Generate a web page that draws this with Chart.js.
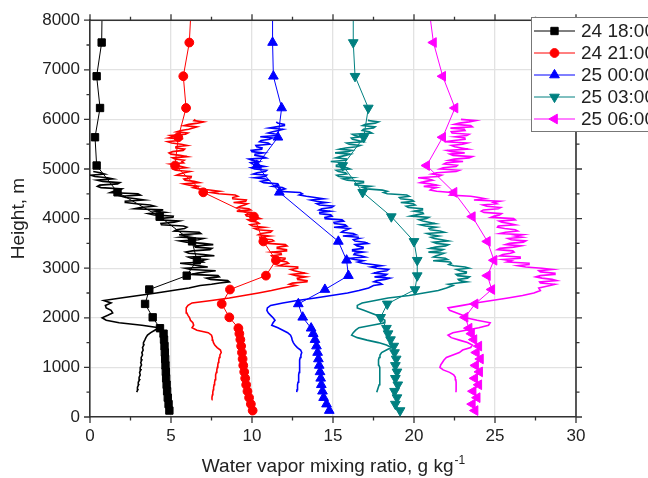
<!DOCTYPE html>
<html>
<head>
<meta charset="utf-8">
<script src="https://cdn.jsdelivr.net/npm/chart.js@4.4.1/dist/chart.umd.min.js"></script>
<style>
  html, body { margin: 0; padding: 0; background: #fff; }
  #wrap { width: 648px; height: 478px; position: relative; }
</style>
</head>
<body>
<div id="wrap"><canvas id="profileChart"></canvas></div>
<script>
// ---- data ----
const seriesNames = ["24 18:00", "24 21:00", "25 00:00", "25 03:00", "25 06:00"];
const xTicks = [0, 5, 10, 15, 20, 25, 30];
const yTicks = [0, 1000, 2000, 3000, 4000, 5000, 6000, 7000, 8000];

// continuous profiles (height, m)
const profileHeights = [
  350, 400, 450, 500, 550, 600, 650, 700, 750, 800,
  850, 900, 950, 1000, 1050, 1100, 1150, 1200, 1250, 1300,
  1350, 1400, 1450, 1500, 1550, 1600, 1650, 1700, 1750, 1800,
  1850, 1900, 1950, 2000, 2050, 2100, 2150, 2200, 2250, 2300,
  2350, 2400, 2450, 2500, 2550, 2600, 2650, 2700, 2750, 2800,
  2850, 2900, 2950, 3000, 3050, 3100, 3150, 3200, 3250, 3300,
  3350, 3400, 3450, 3500, 3550, 3600, 3650, 3700, 3750, 3800,
  3850, 3900, 3950, 4000, 4050, 4100, 4150, 4200, 4250, 4300,
  4350, 4400, 4450, 4500, 4550, 4600, 4650, 4700, 4750, 4800,
  4850, 4900, 4950, 5000, 5050, 5100, 5150, 5200, 5250, 5300,
  5350, 5400, 5450, 5500, 5550, 5600, 5650, 5700, 5750, 5800,
  5850, 5900, 5950, 6000
];
// extra levels in the noisy upper part
const profileMidHeights = [
  2675, 2725, 2775, 2825, 2875, 2925, 2975, 3025, 3075, 3125,
  3175, 3225, 3275, 3325, 3375, 3425, 3475, 3525, 3575, 3625,
  3675, 3725, 3775, 3825, 3875, 3925, 3975, 4025, 4075, 4125,
  4175, 4225, 4275, 4325, 4375, 4425, 4475, 4525, 4575, 4625,
  4675, 4725, 4775, 4825, 4875, 4925, 4975, 5025, 5075, 5125,
  5175, 5225, 5275, 5325, 5375, 5425, 5475, 5525, 5575, 5625,
  5675, 5725, 5775, 5825, 5875, 5925, 5975
];

const profile1800 = [
  null, null, null, 2.88, 2.95, 2.93, 3.0, 2.98, 3.06, 3.03,
  3.1, 3.06, 3.14, 3.1, 3.18, 3.13, 3.2, 3.16, 3.24, 3.2,
  3.28, 3.24, 3.32, 3.3, 3.38, 3.45, 3.55, 3.75, 4.0, 4.25,
  3.2, 1.8, 1.0, 0.75, 1.1, 1.4, 1.3, 1.0, 0.95, 1.3,
  0.85, 1.9, 3.0, 4.1, 5.1, 6.1, 6.8, 8.0, 8.5, 7.2,
  7.9, 6.64, 7.76, 5.88, 6.74, 5.56, 6.88, 6.26, 7.68, 6.1,
  6.32, 7.52, 6.46, 6.96, 5.54, 7.0, 6.08, 6.84, 5.2, 5.84,
  5.76, 4.38, 5.52, 4.26, 5.14, 3.62, 4.02, 2.74, 3.98, 2.84,
  2.18, 2.84, 1.94, 2.96, 1.46, 1.98, 0.46, 1.7, 0.78, 1.42,
  0.3, 0.9, 0.2, null, null, null, null, null, null, null,
  null, null, null, null, null, null, null, null, null, null,
  null, null, null, null
];
const profile1800Mid = [
  7.5, 8.6, 7.44, 7.98, 6.26, 7.14, 6.22, 7.27, 6.21, 7.0,
  7.17, 6.07, 7.01, 5.91, 7.4, 6.51, 7.61, 5.95, 6.69, 5.58,
  5.5, 6.74, 5.34, 5.98, 4.41, 5.19, 4.17, 5.12, 3.96, 4.6,
  4.52, 3.12, 3.71, 2.21, 3.35, 2.21, 3.11, 1.25, 1.84, 0.68,
  0.6, 1.84, 0.44, 1.08, 0.05, 0.64, null, null, null, null,
  null, null, null, null, null, null, null, null, null, null,
  null, null, null, null, null, null, null
];
const profile2100 = [
  7.51, 7.53, 7.56, 7.58, 7.61, 7.63, 7.66, 7.69, 7.72, 7.74,
  7.77, 7.8, 7.83, 7.86, 7.89, 7.92, 7.95, 7.98, 8.02, 8.1,
  8.05, 7.85, 7.7, 7.62, 7.58, 7.55, 7.5, 7.3, 6.6, 6.3,
  6.4, 6.35, 6.2, 6.15, 6.05, 5.97, 5.93, 5.95, 6.05, 6.3,
  7.5, 8.6, 9.5, 10.4, 11.2, 11.9, 12.7, 12.5, 13.4, 12.8,
  12.72, 13.27, 12.61, 12.81, 11.64, 12.25, 11.63, 12.04, 11.2, 11.79,
  12.1, 11.59, 12.16, 10.98, 11.34, 10.51, 11.08, 10.56, 11.23, 10.15,
  10.03, 10.44, 9.89, 10.51, 9.66, 9.98, 9.06, 9.8, 9.28, 9.72,
  9.61, 8.78, 9.12, 7.96, 7.99, 6.72, 6.67, 5.79, 6.43, 5.79,
  6.25, 5.54, 6.16, 5.13, 5.64, 4.96, 5.68, 5.24, 5.99, 5.0,
  5.1, 5.84, 5.31, 5.63, 4.79, 5.63, 5.18, 5.89, 5.35, 6.09,
  6.6, 6.1, 7.0, 6.5
];
const profile2100Mid = [
  12.3, 13.39, 12.79, 13.31, 12.44, 12.94, 12.4, 12.82, 11.91, 12.15,
  12.05, 11.27, 11.81, 11.21, 12.13, 11.56, 12.06, 10.95, 11.24, 10.48,
  10.4, 11.14, 10.34, 10.76, 9.89, 10.34, 9.75, 10.3, 9.61, 9.98,
  9.92, 9.12, 9.54, 8.86, 9.65, 8.81, 8.96, 7.45, 7.39, 6.38,
  6.13, 6.74, 5.87, 6.23, 5.34, 5.82, 5.3, 5.95, 5.34, 5.78,
  5.81, 5.09, 5.57, 4.88, 5.75, 5.3, 6.0, 5.04, 5.46, 4.85,
  4.95, 6.04, 5.62, 6.36, 5.81, 6.64, 6.42
];
const profile0000 = [
  null, null, null, 12.76, 12.78, 12.8, 12.82, 12.84, 12.86, 12.88,
  12.9, 12.91, 12.92, 12.93, 12.94, 12.95, 12.96, 12.98, 13.02, 13.07,
  13.0, 12.8, 12.65, 12.55, 12.48, 12.45, 12.38, 12.2, 11.9, 11.6,
  11.22, 11.3, 11.42, 11.3, 11.15, 11.0, 10.92, 10.95, 11.15, 11.9,
  12.8, 13.9, 14.9, 15.9, 16.6, 17.2, 17.5, 17.9, 17.7, 18.5,
  18.21, 17.53, 18.32, 17.71, 17.99, 16.82, 16.87, 15.99, 16.73, 16.34,
  16.23, 16.89, 16.49, 17.16, 16.36, 16.58, 15.61, 16.25, 15.63, 16.02,
  15.85, 15.09, 15.66, 14.48, 14.94, 14.16, 14.83, 14.31, 15.03, 14.0,
  13.97, 14.42, 13.36, 13.11, 11.64, 12.05, 11.28, 11.59, 10.55, 10.84,
  10.81, 10.08, 10.82, 10.16, 10.79, 10.04, 10.41, 9.8, 10.66, 10.19,
  10.0, 10.6, 10.29, 11.11, 10.46, 11.08, 10.51, 11.55, 11.28, 11.92,
  11.5, 12.0, 11.5, null
];
const profile0000Mid = [
  18.02, 17.52, 18.21, 17.56, 18.32, 17.78, 18.43, 17.35, 17.44, 16.53,
  16.33, 16.99, 16.29, 16.88, 16.21, 16.86, 16.37, 16.97, 16.26, 16.55,
  16.42, 15.52, 15.86, 15.06, 15.75, 15.06, 15.56, 14.5, 14.86, 14.18,
  14.15, 14.91, 14.17, 14.58, 13.63, 13.89, 12.92, 12.97, 11.81, 11.87,
  11.64, 10.72, 11.01, 10.16, 10.9, 10.31, 10.91, 9.95, 10.45, 9.91,
  10.0, 10.86, 10.18, 10.69, 9.95, 10.62, 10.24, 11.0, 10.56, 11.25,
  11.52, 11.0, 11.64, 11.06, 12.0, 11.58, null
];
const profile0300 = [
  null, null, null, 17.7, 17.75, 17.8, 17.85, 17.88, 17.9, 17.9,
  17.9, 17.9, 17.88, 17.85, 17.82, 17.8, 17.82, 17.85, 17.9, 18.0,
  18.3, 18.6, 18.3, 17.8, 17.1, 16.5, 16.15, 16.25, 16.4, 16.6,
  17.4, 18.2, 18.2, 17.95, 17.7, 17.3, 16.9, 16.5, 16.5, 16.8,
  17.6, 18.4, 19.7, 20.6, 21.5, 22.0, 22.4, 22.7, 22.8, 23.3,
  22.7, 23.25, 22.83, 23.4, 22.45, 22.3, 21.18, 21.93, 21.37, 21.85,
  21.64, 21.0, 21.95, 21.4, 22.12, 21.25, 21.53, 20.8, 21.6, 20.93,
  20.7, 21.3, 20.55, 20.77, 19.8, 20.58, 20.02, 20.52, 19.52, 19.95,
  19.98, 19.18, 19.7, 18.35, 18.35, 17.08, 17.3, 16.35, 16.88, 15.62,
  15.35, 15.85, 15.33, 16.05, 15.23, 15.65, 14.86, 15.83, 15.44, 16.05,
  15.92, 15.4, 16.45, 16.0, 16.82, 16.2, 16.73, 16.2, 17.25, 16.88,
  17.6, 17.0, 17.8, 17.2
];
const profile0300Mid = [
  22.12, 23.27, 22.73, 23.42, 22.6, 23.23, 22.63, 23.15, 22.15, 22.23,
  22.07, 21.2, 21.64, 20.89, 21.81, 21.32, 22.12, 21.19, 21.73, 21.05,
  21.04, 21.87, 21.0, 21.37, 20.4, 20.92, 20.32, 20.92, 20.15, 20.53,
  20.5, 19.65, 20.07, 19.18, 19.88, 19.1, 19.55, 18.12, 18.05, 16.85,
  16.37, 16.87, 15.88, 16.2, 15.23, 15.77, 15.2, 15.86, 15.21, 15.74,
  15.86, 15.18, 15.78, 15.13, 16.16, 15.77, 16.68, 15.84, 16.55, 16.13,
  16.34, 17.4, 16.8, 17.5, 16.83, 17.6, 17.2
];
const profile0600 = [
  null, null, null, 22.59, 22.6, 22.6, 22.6, 22.6, 22.58, 22.55,
  22.45, 22.2, 21.8, 21.6, 21.65, 21.75, 21.85, 22.0, 22.4, 22.8,
  23.0, 23.5, 23.6, 23.3, 22.8, 22.3, 22.1, 22.4, 23.2, 24.0,
  24.6, 24.7, 23.9, 23.2, 23.0, 22.6, 22.2, 22.1, 23.0, 23.8,
  24.8, 25.8, 26.7, 27.4, 27.8, 27.7, 28.4, 27.8, 28.8, 27.9,
  27.8, 28.7, 27.7, 27.9, 26.4, 27.1, 26.0, 26.6, 25.3, 25.95,
  26.1, 25.3, 26.6, 25.9, 26.9, 25.8, 26.25, 25.3, 26.4, 25.6,
  25.2, 25.9, 25.25, 26.15, 24.95, 25.4, 24.15, 25.2, 24.5, 25.1,
  25.3, 24.4, 23.5, 22.3, 21.4, 21.1, 20.6, 21.0, 20.7, 20.9,
  21.5, 21.1, 22.6, 21.6, 22.6, 21.85, 23.03, 22.48, 23.6, 22.22,
  22.34, 23.34, 22.52, 23.0, 21.88, 23.15, 22.53, 23.4, 22.3, 23.1,
  23.6, 22.5, 23.4, 22.9
];
const profile0600Mid = [
  28.7, 27.75, 28.52, 27.52, 28.65, 27.8, 28.55, 26.9, 27.1, 25.75,
  25.5, 26.55, 25.48, 26.18, 25.15, 26.15, 25.65, 26.75, 26.0, 26.68,
  26.72, 25.65, 26.25, 25.15, 26.25, 25.42, 26.25, 24.75, 25.28, 24.32,
  24.28, 25.35, 24.25, 24.9, 23.7, 24.0, 22.2, 22.3, 21.0, 21.4,
  21.4, 20.4, 21.15, 20.25, 21.7, 21.4, 22.8, 21.8, 22.68, 22.0,
  22.15, 23.4, 22.41, 23.13, 22.04, 22.93, 22.31, 23.29, 22.46, 23.14,
  23.26, 22.35, 23.15, 22.25, 23.5, 22.8, 23.8
];

// sounding levels with markers (height, m)
const sondeHeights = [
  130, 260, 390, 520, 650, 780, 910, 1040, 1170, 1300, 1430, 1560, 1680,
  1790, 2010, 2280, 2570, 2850, 3160, 3540, 4040, 4530, 5070, 5640, 6230, 6870, 7550, 8300
];
const sonde1800 = [
  4.9, 4.85, 4.8, 4.76, 4.73, 4.7, 4.68, 4.66, 4.64, 4.62, 4.6, 4.57, 4.54,
  4.32, 3.87, 3.4, 3.66, 5.97, 6.6, 6.3, 4.3, 1.7, 0.41, 0.31, 0.62, 0.41, 0.72, 0.75
];
const sonde2100 = [
  10.04, 9.93, 9.82, 9.72, 9.64, 9.58, 9.52, 9.46, 9.42, 9.38, 9.33, 9.28, 9.22,
  9.16, 8.6, 8.13, 8.64, 10.86, 11.48, 10.7, 10.12, 6.99, 5.25, 5.45, 5.93, 5.76, 6.13, 6.25
];
const sonde0000 = [
  14.77, 14.6, 14.42, 14.35, 14.28, 14.24, 14.2, 14.15, 14.1, 14.05, 13.98, 13.89, 13.78,
  13.65, 13.13, 12.86, 14.5, 15.95, 15.84, 15.33, null, 11.69, 10.29, 11.6, 11.83, 11.32, 11.27, 11.27
];
const sonde0300 = [
  19.14, 18.85, 18.95, 18.8, 19.0, 18.85, 18.95, 18.85, 18.9, 18.8, 18.75, 18.55, 18.4,
  18.3, 17.94, 18.35, 20.06, 20.2, 20.2, 20.0, 18.6, 16.83, 15.6, 16.9, 17.18, 16.36, 16.25, 16.25
];
const sonde0600 = [
  23.77, 23.6, 23.9, 23.65, 24.0, 23.75, 24.05, 23.8, 24.1, 23.85, 24.0, 23.7, 23.55,
  23.4, 23.15, 23.77, 24.8, 24.53, 24.94, 24.53, 23.6, 22.47, 20.78, 21.77, 22.53, 21.77, 21.2, 20.9
];

// ---- styling ----
const FONT = "'Liberation Sans', Arial, sans-serif";
const colors = ["#000000", "#ff0000", "#0000ff", "#008080", "#ff00ff"];
const markers = [
  { style: "rect", radius: 5.2, rotation: 0 },
  { style: "circle", radius: 4.4, rotation: 0 },
  { style: "triangle", radius: 5.6, rotation: 0 },
  { style: "triangle", radius: 5.6, rotation: 180 },
  { style: "triangle", radius: 5.6, rotation: 270 }
];
const profiles = [profile1800, profile2100, profile0000, profile0300, profile0600];
const profilesMid = [profile1800Mid, profile2100Mid, profile0000Mid, profile0300Mid, profile0600Mid];
const sondes = [sonde1800, sonde2100, sonde0000, sonde0300, sonde0600];

function toPoints(xs, hs) {
  const pts = [];
  xs.forEach((v, i) => {
    if (v !== null) pts.push({ x: v, y: hs[i] });
  });
  return pts;
}

const datasets = [];
seriesNames.forEach((name, i) => {
  const pts = toPoints(profiles[i], profileHeights)
    .concat(toPoints(profilesMid[i], profileMidHeights))
    .sort((p, q) => p.y - q.y);
  datasets.push({
    label: name,
    data: pts,
    showLine: true,
    borderColor: colors[i],
    borderWidth: 1.6,
    pointRadius: 0
  });
});
seriesNames.forEach((name, i) => {
  datasets.push({
    label: name + " sonde",
    data: toPoints(sondes[i], sondeHeights),
    showLine: true,
    borderColor: colors[i],
    backgroundColor: colors[i],
    borderWidth: 1,
    pointStyle: markers[i].style,
    pointRadius: markers[i].radius,
    pointRotation: markers[i].rotation,
    pointBorderWidth: 1,
    pointBorderColor: colors[i],
    pointBackgroundColor: colors[i],
    clip: { left: 8, right: 8, top: 0, bottom: 8 }
  });
});

// frame, minor ticks, titles and legend
const decorations = {
  id: "decorations",
  afterDraw(chart) {
    const { ctx, chartArea: a, scales } = chart;
    const xs = scales.x, ys = scales.y;
    ctx.save();
    ctx.strokeStyle = "#333";
    ctx.lineWidth = 1.6;
    ctx.beginPath();
    ctx.moveTo(a.left, a.top);
    ctx.lineTo(a.right, a.top);
    ctx.lineTo(a.right, a.bottom);
    ctx.stroke();

    ctx.lineWidth = 1.3;
    ctx.beginPath();
    for (let k = 0; k < xTicks.length; k++) {
      const px = xs.getPixelForValue(xTicks[k]);
      ctx.moveTo(px, a.bottom); ctx.lineTo(px, a.bottom + 6);
      ctx.moveTo(px, a.top); ctx.lineTo(px, a.top - 6);
      if (k < xTicks.length - 1) {
        const pm = xs.getPixelForValue((xTicks[k] + xTicks[k + 1]) / 2);
        ctx.moveTo(pm, a.bottom); ctx.lineTo(pm, a.bottom + 3.5);
        ctx.moveTo(pm, a.top); ctx.lineTo(pm, a.top - 3.5);
      }
    }
    for (let k = 0; k < yTicks.length; k++) {
      const py = ys.getPixelForValue(yTicks[k]);
      ctx.moveTo(a.left, py); ctx.lineTo(a.left - 6, py);
      ctx.moveTo(a.right, py); ctx.lineTo(a.right + 6, py);
      if (k < yTicks.length - 1) {
        const pm = ys.getPixelForValue((yTicks[k] + yTicks[k + 1]) / 2);
        ctx.moveTo(a.left, pm); ctx.lineTo(a.left - 3.5, pm);
        ctx.moveTo(a.right, pm); ctx.lineTo(a.right + 3.5, pm);
      }
    }
    ctx.stroke();

    // axis titles
    ctx.fillStyle = "#222";
    ctx.font = "19px " + FONT;
    ctx.textBaseline = "alphabetic";
    const mainTxt = "Water vapor mixing ratio, g kg";
    const supTxt = "-1";
    const wMain = ctx.measureText(mainTxt).width;
    ctx.font = "12px " + FONT;
    const wSup = ctx.measureText(supTxt).width;
    const cx = (a.left + a.right) / 2;
    const startX = cx - (wMain + wSup) / 2;
    ctx.font = "19px " + FONT;
    ctx.textAlign = "left";
    ctx.fillText(mainTxt, startX, 472);
    ctx.font = "12px " + FONT;
    ctx.fillText(supTxt, startX + wMain + 1, 464);

    ctx.save();
    ctx.font = "19px " + FONT;
    ctx.translate(19, (a.top + a.bottom) / 2);
    ctx.rotate(-Math.PI / 2);
    ctx.textAlign = "center";
    ctx.textBaseline = "middle";
    ctx.fillText("Height, m", 0, 0);
    ctx.restore();

    // legend box
    const bx = 531, by = 17, bw = 130, bh = 114;
    ctx.fillStyle = "#fff";
    ctx.fillRect(bx, by, bw, bh);
    ctx.strokeStyle = "#777";
    ctx.lineWidth = 1;
    ctx.strokeRect(bx + 0.5, by + 0.5, bw, bh);
    seriesNames.forEach((name, i) => {
      const ly = by + 14 + i * 22;
      ctx.strokeStyle = colors[i];
      ctx.fillStyle = colors[i];
      ctx.lineWidth = 1;
      ctx.beginPath();
      ctx.moveTo(534, ly);
      ctx.lineTo(575, ly);
      ctx.stroke();
      Chart.helpers.drawPoint(ctx, {
        pointStyle: markers[i].style,
        radius: markers[i].radius,
        rotation: markers[i].rotation,
        borderWidth: 1
      }, 554.5, ly);
      ctx.fillStyle = "#222";
      ctx.font = "19px " + FONT;
      ctx.textAlign = "left";
      ctx.textBaseline = "middle";
      ctx.fillText(name, 581, ly + 1);
    });
    ctx.restore();
  }
};

new Chart(document.getElementById("profileChart"), {
  type: "scatter",
  data: { datasets: datasets },
  options: {
    responsive: true,
    maintainAspectRatio: false,
    animation: false,
    layout: { padding: { top: 20, right: 72, left: 0, bottom: 0 } },
    plugins: {
      legend: { display: false },
      tooltip: { enabled: false }
    },
    datasets: { scatter: { spanGaps: true } },
    scales: {
      x: {
        type: "linear",
        min: 0,
        max: 30,
        afterBuildTicks: s => { s.ticks = xTicks.map(v => ({ value: v })); },
        afterFit: s => { s.height = 61; },
        ticks: { color: "#222", font: { family: FONT, size: 17 }, padding: 9, maxRotation: 0,
                 callback: v => String(v) },
        grid: { color: "#e2e2e2", lineWidth: 1.3, drawTicks: false },
        border: { color: "#333", width: 1.6 }
      },
      y: {
        type: "linear",
        min: 0,
        max: 8000,
        afterBuildTicks: s => { s.ticks = yTicks.map(v => ({ value: v })); },
        afterFit: s => { s.width = 90; },
        ticks: { color: "#222", font: { family: FONT, size: 17 }, padding: 10,
                 callback: v => String(v) },
        grid: { color: "#e2e2e2", lineWidth: 1.3, drawTicks: false },
        border: { color: "#333", width: 1.6 }
      }
    }
  },
  plugins: [decorations]
});
</script>
</body>
</html>
